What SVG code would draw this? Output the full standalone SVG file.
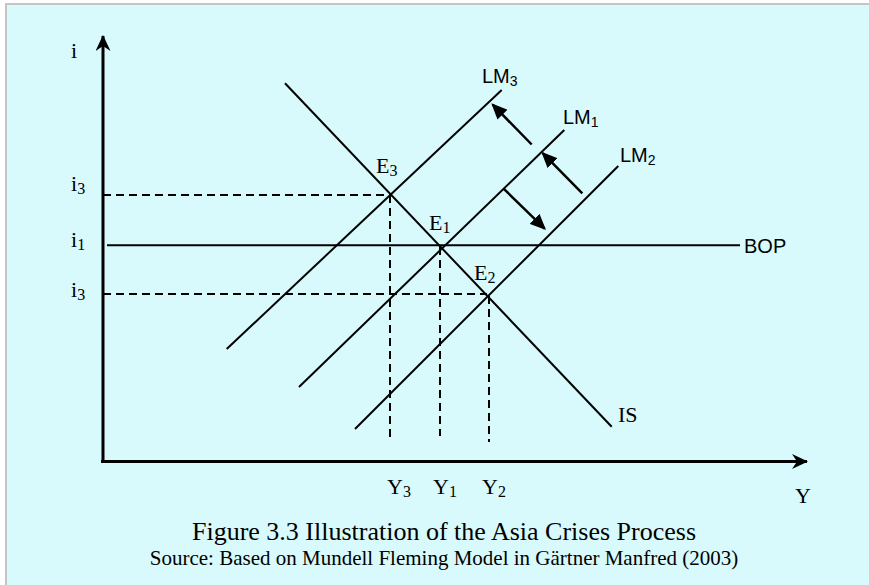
<svg xmlns="http://www.w3.org/2000/svg" width="869" height="585" viewBox="0 0 869 585">
<defs>
<style>
.bg{fill:#d8fafc;stroke:none;}
.bd{stroke:#c4c4c4;stroke-width:2;fill:none;}
.ln{stroke:#000;stroke-width:2;fill:none;}
.ax{stroke:#000;stroke-width:3;fill:none;}
.dash{stroke:#000;stroke-width:2;stroke-dasharray:8,5;fill:none;}
.arr{stroke:#000;stroke-width:2.5;fill:none;}
.tr{font-family:"Liberation Serif","Times New Roman",serif;font-size:22px;fill:#000;}
.sub{font-size:16px;}
.sa{font-family:"Liberation Sans",Arial,sans-serif;font-size:20px;fill:#000;}
.sas{font-size:14px;}
.cap{font-family:"Liberation Serif","Times New Roman",serif;font-size:26px;fill:#000;text-anchor:middle;}
.src{font-family:"Liberation Serif","Times New Roman",serif;font-size:21px;fill:#000;text-anchor:middle;}
</style>
<marker id="axhead" viewBox="0 0 16 15" markerWidth="16" markerHeight="15" refX="15" refY="7.5" orient="auto" markerUnits="userSpaceOnUse">
<path d="M0,0 L16,7.5 L0,15 L5,7.5 Z" fill="#000"/>
</marker>
<marker id="head" viewBox="0 0 16 14" markerWidth="16" markerHeight="14" refX="14" refY="7" orient="auto" markerUnits="userSpaceOnUse">
<path d="M0,0 L16,7 L0,14 Z" fill="#000"/>
</marker>
</defs>
<rect class="bg" x="5" y="3" width="869" height="590"/>
<path class="bd" d="M6,585 L6,4 L869,4"/>

<g id="connectors">
<line id="y-axis" class="ax" x1="103" y1="463" x2="103" y2="36" marker-end="url(#axhead)"/>
<line id="x-axis" class="ax" x1="101" y1="461.5" x2="807" y2="461.5" marker-end="url(#axhead)"/>
<line class="dash" x1="103" y1="195" x2="390" y2="195"/>
<line class="dash" x1="103" y1="294" x2="487" y2="294"/>
<line class="dash" x1="390" y1="195" x2="390" y2="441"/>
<line class="dash" x1="440" y1="247" x2="440" y2="436"/>
<line class="dash" x1="489" y1="296" x2="489" y2="442"/>
<line class="arr" x1="531.7" y1="144.5" x2="492.7" y2="104.7" marker-end="url(#head)"/>
<line class="arr" x1="582.3" y1="193.3" x2="542.7" y2="153.1" marker-end="url(#head)"/>
<line class="arr" x1="503.3" y1="188.3" x2="544.6" y2="228.6" marker-end="url(#head)"/>
</g>

<g id="axis-labels">
<text class="tr" x="71" y="58">i</text>
<text class="tr" x="71" y="191">i<tspan class="sub" dy="3">3</tspan></text>
<text class="tr" x="71" y="247">i<tspan class="sub" dy="3">1</tspan></text>
<text class="tr" x="71" y="297">i<tspan class="sub" dy="3">3</tspan></text>
<text class="tr" x="387" y="494">Y<tspan class="sub" dy="3">3</tspan></text>
<text class="tr" x="433" y="494">Y<tspan class="sub" dy="3">1</tspan></text>
<text class="tr" x="482" y="494">Y<tspan class="sub" dy="3">2</tspan></text>
<text class="tr" x="795" y="503">Y</text>
</g>

<g id="IS">
<line class="ln" x1="285" y1="83.3" x2="611.7" y2="426.7"/>
<text class="tr" x="618" y="422">IS</text>
</g>
<g id="LM3">
<line class="ln" x1="226.7" y1="349" x2="501.7" y2="90"/>
<text class="sa" x="482" y="83">LM<tspan class="sas" dy="3">3</tspan></text>
</g>
<g id="LM1">
<line class="ln" x1="299" y1="387" x2="564.3" y2="130"/>
<text class="sa" x="563" y="124">LM<tspan class="sas" dy="3">1</tspan></text>
</g>
<g id="LM2">
<line class="ln" x1="355" y1="429" x2="618.3" y2="166"/>
<text class="sa" x="620" y="162">LM<tspan class="sas" dy="3">2</tspan></text>
</g>
<g id="BOP">
<line class="ln" x1="107" y1="245.3" x2="740" y2="245.3"/>
<text class="sa" x="744" y="253">BOP</text>
</g>
<g id="E3"><text class="tr" x="376" y="173">E<tspan class="sub" dy="3">3</tspan></text></g>
<g id="E1"><text class="tr" x="429" y="230">E<tspan class="sub" dy="3">1</tspan></text></g>
<g id="E2"><text class="tr" x="474" y="280">E<tspan class="sub" dy="3">2</tspan></text></g>

<g id="caption">
<text class="cap" x="444" y="540">Figure 3.3 Illustration of the Asia Crises Process</text>
<text class="src" x="444" y="565">Source: Based on Mundell Fleming Model in Gärtner Manfred (2003)</text>
</g>
</svg>
